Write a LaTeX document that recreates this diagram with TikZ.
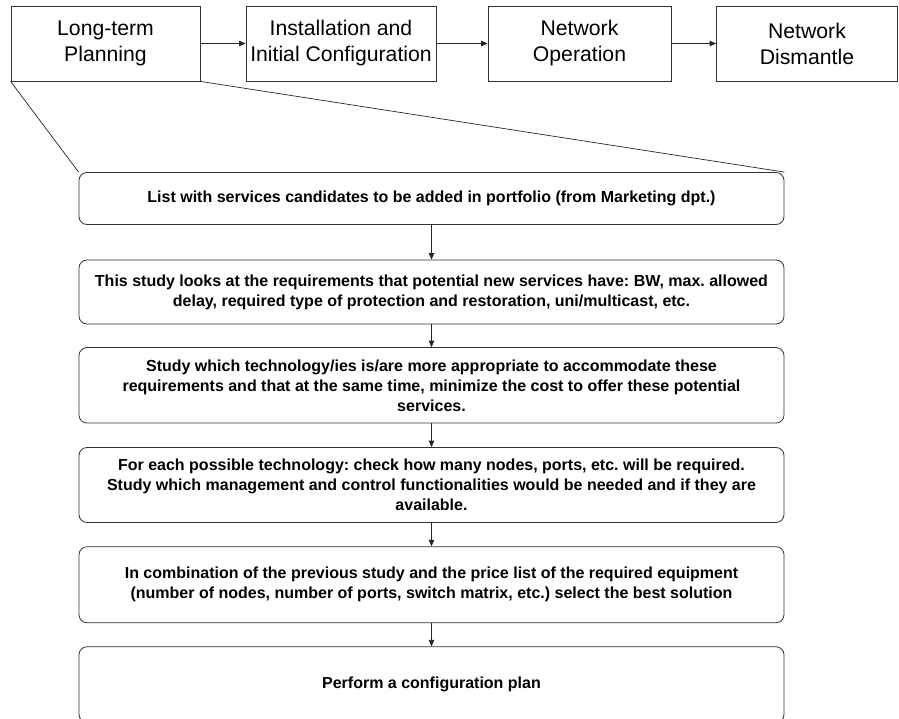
\documentclass[tikz,border=0pt]{standalone}
\usepackage{fontspec}
\setmainfont{Liberation Sans}
\frenchspacing
\usetikzlibrary{arrows.meta}
\tikzset{
  phase/.style={draw=black!80, line width=0.8pt, inner sep=0pt, align=center,
    font=\fontsize{21.2}{26}\selectfont},
  taskbox/.style={draw=black!80, line width=0.8pt, rounded corners=8pt, inner sep=0pt,
    align=center, minimum width=705pt, font=\fontsize{16}{20}\selectfont\bfseries},
  flow/.style={draw=black!85, line width=0.8pt, -{Triangle[width=5.5pt,length=6.5pt]}},
  zoomline/.style={draw=black!85, line width=0.7pt}
}
\begin{document}
\begin{tikzpicture}[x=1pt,y=-1pt]
  \useasboundingbox (0,0) rectangle (899,719);
  \clip (0,0) rectangle (899,719);

  % life-cycle phases
  \node[phase, minimum width=189pt, minimum height=75pt] (p1) at (105.5,43.5) {Long-term\\Planning};
  \node[phase, minimum width=190pt, minimum height=75pt] (p2) at (341,43.5) {Installation and\\Initial Configuration};
  \node[phase, minimum width=183pt, minimum height=75pt] (p3) at (579.5,43.5) {Network\\Operation};
  \node[phase, minimum width=181pt, minimum height=75pt] (p4) at (807,43.5) {Network\\Dismantle};
  \draw[flow] (p1) -- (p2);
  \draw[flow] (p2) -- (p3);
  \draw[flow] (p3) -- (p4);

  % detailed planning steps
  \node[taskbox, minimum height=52pt] (s1) at (431.5,198.5)
    {List with services candidates to be added in portfolio (from Marketing dpt.)};
  \node[taskbox, minimum height=64pt] (s2) at (431.5,292)
    {This study looks at the requirements that potential new services have: BW, max. allowed\\
     delay, required type of protection and restoration, uni/multicast, etc.};
  \node[taskbox, minimum height=75.5pt] (s3) at (431.5,385.3)
    {Study which technology/ies is/are more appropriate to accommodate these\\
     requirements and that at the same time, minimize the cost to offer these potential\\
     services.};
  \node[taskbox, minimum height=75pt] (s4) at (431.5,485)
    {For each possible technology: check how many nodes, ports, etc. will be required.\\
     Study which management and control functionalities would be needed and if they are\\
     available.};
  \node[taskbox, minimum height=76pt] (s5) at (431.5,584.7)
    {In combination of the previous study and the price list of the required equipment\\
     (number of nodes, number of ports, switch matrix, etc.) select the best solution};
  \node[taskbox, minimum height=75.5pt] (s6) at (431.5,684.5)
    {Perform a configuration plan};

  \foreach \a/\b in {s1/s2,s2/s3,s3/s4,s4/s5,s5/s6}
    \draw[flow] (\a) -- (\b);

  % expansion of the first phase
  \draw[zoomline] (p1.south west) -- (s1.north west);
  \draw[zoomline] (p1.south east) -- (s1.north east);
\end{tikzpicture}
\end{document}
